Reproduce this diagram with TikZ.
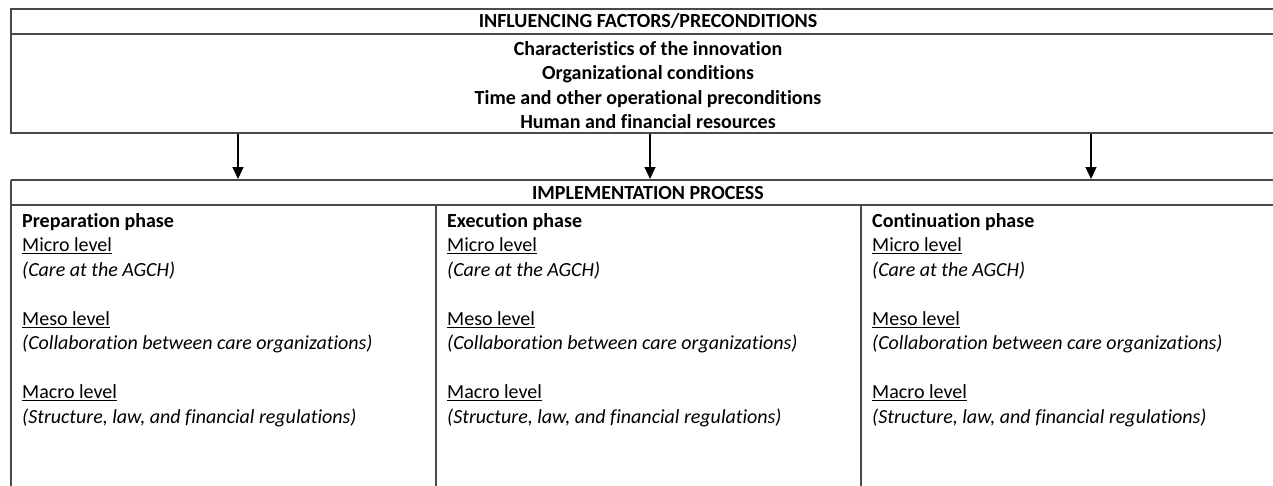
\documentclass[tikz,border=0pt]{standalone}
\usepackage{fontspec}
\setmainfont{Carlito}[Ligatures=NoCommon]
\usetikzlibrary{arrows.meta}

\definecolor{borde}{HTML}{4A4A4A}

\newcommand{\niveles}{%
\underline{Micro level}\\
\textit{(Care at the AGCH)}\\[24.5pt]
\underline{Meso level}\\
\textit{(Collaboration between care organizations)}\\[24.5pt]
\underline{Macro level}\\
\textit{(Structure, law, and financial regulations)}}

\begin{document}
\begin{tikzpicture}[x=1pt,y=-1pt,
  font=\fontsize{20}{24.5}\selectfont,
  negrita/.style={font=\fontsize{20}{24.5}\selectfont\bfseries},
  linea/.style={draw=borde, line width=1.3pt},
  flecha/.style={line width=1.2pt, -{Triangle[length=12pt,width=11pt]}}]
\useasboundingbox (0,0) rectangle (1273,485);
\clip (0,0) rectangle (1273,485);
% Recuadro de factores
\draw[linea] (11,9) rectangle (1286,133);
\draw[linea] (11,34) -- (1286,34);
\node[negrita] (factores) at (648,21) {INFLUENCING FACTORS/PRECONDITIONS};
\node[negrita, align=center, inner sep=0pt] (lista) at (648,85)
  {Characteristics of the innovation\\ Organizational conditions\\
   Time and other operational preconditions\\ Human and financial resources};
% Recuadro del proceso
\draw[linea] (11,180) -- (1286,180);
\draw[linea] (11,205) -- (1286,205);
\draw[linea] (11,180) -- (11,500);
\draw[linea] (436,205) -- (436,500);
\draw[linea] (861,205) -- (861,500);
\node[negrita] (proceso) at (648,193) {IMPLEMENTATION PROCESS};
% Fases
\foreach \x/\n/\fase in {22/prep/Preparation, 447/ejec/Execution, 872/cont/Continuation}
  \node[anchor=north west, align=left, inner sep=0pt] (\n) at (\x,213)
    {\textbf{\fase\ phase}\\ \niveles};
% Flechas
\coordinate (a1) at (238,134); \coordinate (b1) at (238,179);
\coordinate (a2) at (650,134); \coordinate (b2) at (650,179);
\coordinate (a3) at (1091,134); \coordinate (b3) at (1091,179);
\draw[flecha] (a1) -- (b1);
\draw[flecha] (a2) -- (b2);
\draw[flecha] (a3) -- (b3);
\end{tikzpicture}
\end{document}
